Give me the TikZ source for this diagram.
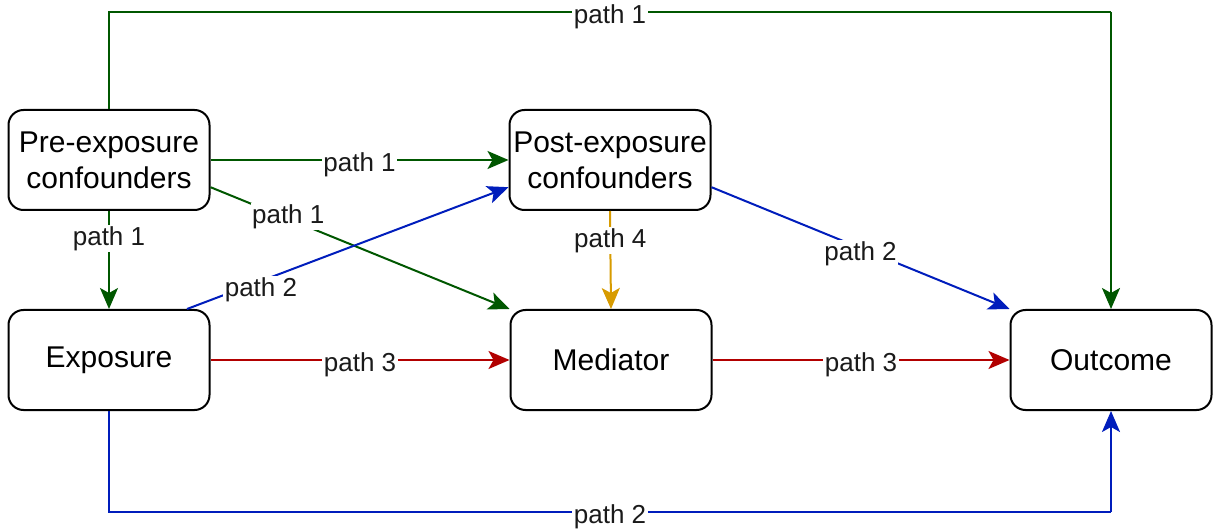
\documentclass[tikz,border=0pt]{standalone}
\usepackage{fontspec}
\setmainfont{Liberation Sans}
\usetikzlibrary{arrows.meta,calc}
\definecolor{pgreen}{HTML}{005700}
\definecolor{pblue}{HTML}{001DBC}
\definecolor{pred}{HTML}{B20000}
\definecolor{pgold}{HTML}{D79B00}
\definecolor{labeltext}{HTML}{1A1A1A}
\tikzset{
  box/.style={draw=black, line width=2pt, rounded corners=15pt, fill=white,
    minimum width=201pt, minimum height=100pt, align=center, inner sep=0pt,
    font=\fontsize{30}{36}\selectfont},
  link/.style={line width=2pt, -{Stealth[length=21pt,width=18pt,inset=5pt]}},
  plain/.style={line width=2pt},
  lbl/.style={fill=white, inner sep=1.5pt, text=labeltext, yshift=-5pt,
    font=\fontsize{26}{30}\selectfont},
}
\begin{document}
\begin{tikzpicture}[x=1pt,y=-1pt]
\useasboundingbox (0,0) rectangle (1218,529);

% boxes
\node[box] (pre) at (109,160) {Pre-exposure\\confounders};
\node[box] (post) at (610,160) {Post-exposure\\confounders};
\node[box] (exp) at (109,360) {Exposure};
\node[box] (med) at (611,360) {Mediator};
\node[box] (out) at (1111,360) {Outcome};

% corner points of the two long routes
\coordinate (tl) at (109,12);
\coordinate (tr) at (1111,12);
\coordinate (bl) at (109,512);
\coordinate (br) at (1111,512);
\coordinate (expout) at ($(exp.north)+(78,0)$);

% path 1 (green)
\draw[plain, pgreen] (pre.north) -- (tl) -- node[lbl] {path 1} (tr);
\draw[link, pgreen] (tr) -- (out.north);
\draw[link, pgreen] (pre.east) -- node[lbl, pos=0.5] {path 1} (post.west);
\draw[link, pgreen] (pre.-15) -- node[lbl, pos=0.26, yshift=7pt] {path 1} (med.north west);
\draw[link, pgreen] (pre.south) -- node[lbl, pos=0.23] {path 1} (exp.north);

% path 2 (blue)
\draw[link, pblue] (expout) -- node[lbl, pos=0.23, yshift=-4pt] {path 2} (post.-165);
\draw[link, pblue] (post.-15) -- node[lbl, pos=0.5, yshift=-1pt] {path 2} (out.north west);
\draw[plain, pblue] (exp.south) -- (bl) -- node[lbl] {path 2} (br);
\draw[link, pblue] (br) -- (out.south);

% path 3 (red)
\draw[link, pred] (exp.east) -- node[lbl] {path 3} (med.west);
\draw[link, pred] (med.east) -- node[lbl] {path 3} (out.west);

% path 4 (gold)
\draw[link, pgold] (post.south) -- node[lbl, pos=0.25] {path 4} (med.north);
\end{tikzpicture}
\end{document}
